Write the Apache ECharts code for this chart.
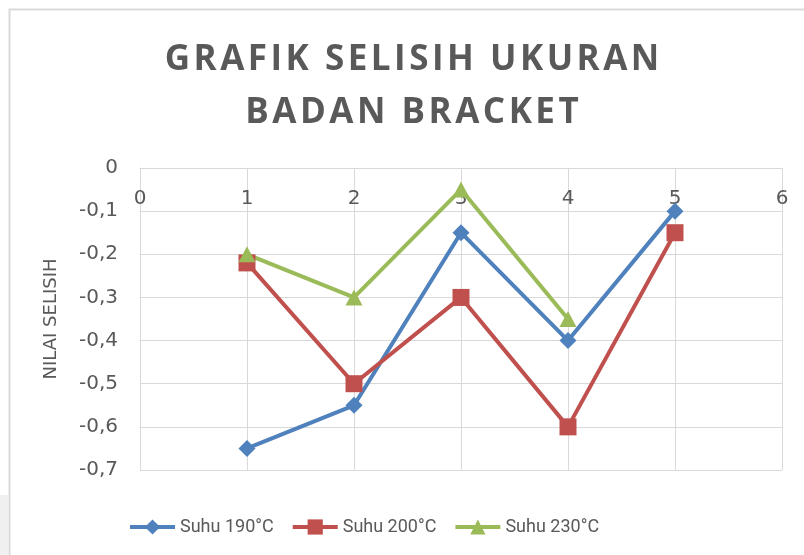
<!DOCTYPE html>
<html>
<head>
<meta charset="utf-8">
<script src="https://cdn.jsdelivr.net/npm/echarts@6/dist/echarts.min.js"></script>
<style>
  html, body { margin: 0; padding: 0; background: #fff; }
  #chart { width: 804px; height: 555px; }
</style>
</head>
<body>
<div id="chart"></div>
<script>
// Sample numbers (x positions)
const sampleNo = [1, 2, 3, 4, 5];

// Size difference per temperature setting
const suhu190 = [-0.65, -0.55, -0.15, -0.40, -0.10];
const suhu200 = [-0.22, -0.50, -0.30, -0.60, -0.15];
const suhu230 = [-0.20, -0.30, -0.05, -0.35];

const seriesNames = ['Suhu 190°C', 'Suhu 200°C', 'Suhu 230°C'];
const titleLines = ['GRAFIK SELISIH UKURAN', 'BADAN BRACKET'];
const yAxisName = 'NILAI SELISIH';

// spread letters of the heading a little
const spaced = s => s.split('').join('\u200A');

const pairs = vals => vals.map((v, i) => [sampleNo[i], v]);

const textColor = '#595959';
const gridColor = '#d9d9d9';
const baseFont = 'DejaVu Sans';

const chart = echarts.init(document.getElementById('chart'), null, { renderer: 'canvas' });

const mkSeries = (name, vals, color, symbol, size) => ({
  name,
  type: 'line',
  data: pairs(vals),
  symbol,
  symbolSize: size,
  lineStyle: { color, width: 4 },
  itemStyle: { color },
  emphasis: { disabled: true },
  animation: false
});

chart.setOption({
  animation: false,
  backgroundColor: '#ffffff',
  graphic: [
    {
      type: 'rect',
      shape: { x: 0, y: 495, width: 8, height: 60 },
      style: { fill: '#f0f0f0' },
      silent: true
    },
    {
      type: 'rect',
      shape: { x: 9.5, y: 9.5, width: 820, height: 570 },
      style: { fill: null, stroke: gridColor, lineWidth: 2 },
      silent: true,
      z: -1
    },
    {
      type: 'text',
      style: {
        text: spaced(titleLines[0]) + '\n' + spaced(titleLines[1]),
        x: 412,
        y: 34,
        align: 'center',
        fill: textColor,
        font: 'bold 35px "Open Sans"',
        lineHeight: 53
      },
      silent: true
    }
  ],
  legend: {
    left: 123,
    top: 513,
    itemWidth: 45,
    itemHeight: 19,
    itemGap: 17,
    lineStyle: { width: 4 },
    textStyle: { color: textColor, fontSize: 18, fontFamily: 'Roboto' },
    data: seriesNames
  },
  grid: {
    left: 140,
    right: 22,
    top: 168,
    bottom: 85,
    containLabel: false
  },
  xAxis: {
    type: 'value',
    position: 'top',
    min: 0,
    max: 6,
    interval: 1,
    axisLine: { show: true, lineStyle: { color: gridColor, width: 1 } },
    axisTick: { show: false },
    axisLabel: {
      inside: true,
      margin: 21,
      color: textColor,
      fontSize: 20,
      fontFamily: baseFont
    },
    splitLine: { show: true, lineStyle: { color: gridColor, width: 1 } }
  },
  yAxis: {
    type: 'value',
    min: -0.7,
    max: 0,
    interval: 0.1,
    name: yAxisName,
    nameLocation: 'middle',
    nameGap: 80,
    nameTextStyle: { color: textColor, fontSize: 18, fontFamily: baseFont },
    axisLine: { show: true, lineStyle: { color: gridColor, width: 1 } },
    axisTick: { show: false },
    axisLabel: {
      margin: 22,
      color: textColor,
      fontSize: 20,
      fontFamily: baseFont,
      formatter: v => {
        const r = Math.round(v * 10) / 10;
        return r === 0 ? '0' : r.toFixed(1).replace('.', ',');
      }
    },
    splitLine: { show: true, lineStyle: { color: gridColor, width: 1 } }
  },
  series: [
    mkSeries(seriesNames[0], suhu190, '#4F81BD', 'diamond', [17, 17]),
    mkSeries(seriesNames[1], suhu200, '#C0504D', 'rect', [17, 17]),
    mkSeries(seriesNames[2], suhu230, '#9BBB59', 'triangle', [17, 16])
  ]
});
</script>
</body>
</html>
